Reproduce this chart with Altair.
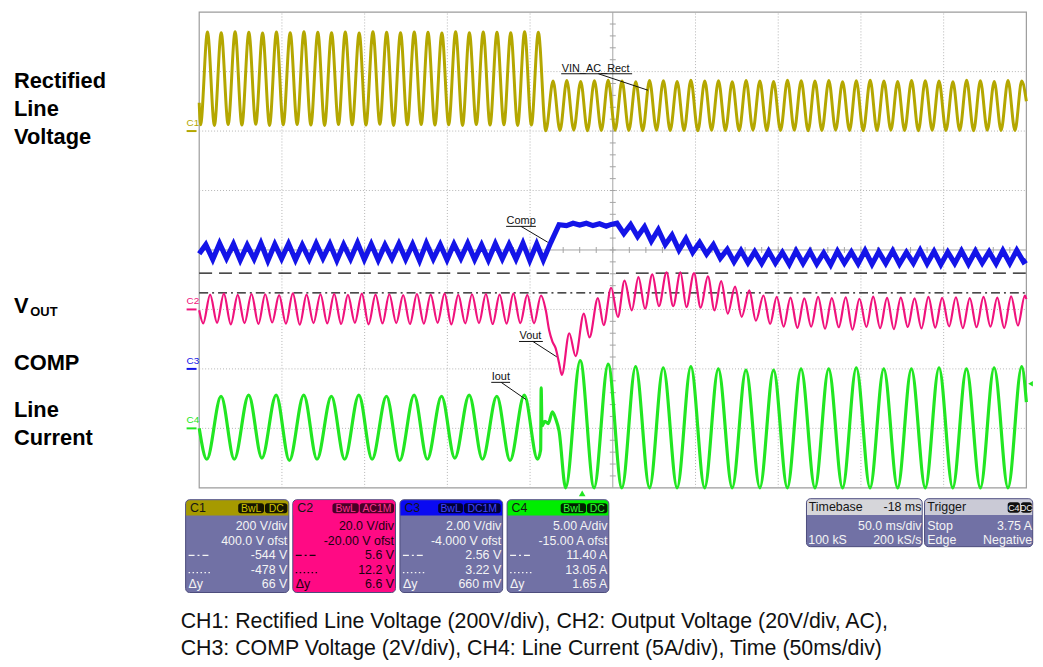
import altair as alt
import pandas as pd

# ---------------- values ----------------
# time in ms from the left edge of the scope screen (50 ms/div, 10 div)
# CH1 rectified line voltage (V)
C1_PEAK_T = [5.0, 13.3, 21.7, 30.0, 38.3, 46.7, 55.0, 63.3, 71.7, 80.0, 88.3, 96.7, 105.0,
             113.3, 121.7, 130.0, 138.3, 146.7, 155.0, 163.3, 171.7, 180.0, 188.3, 196.7, 205.0,
             213.9, 222.2, 230.6, 238.9, 247.2, 255.6, 263.9, 272.2, 280.6, 288.9, 297.2, 305.6,
             313.9, 322.2, 330.6, 338.9, 347.2, 355.6, 363.9, 372.2, 380.6, 388.9, 397.2, 405.6,
             413.9, 422.2, 430.6, 438.9, 447.2, 455.6, 463.9, 472.2, 480.6, 488.9, 497.2]
C1_PEAK_V = [333, 331, 334, 332, 330, 333, 331, 334, 332, 331, 333, 330, 334, 332, 331, 333, 332,
             330, 334, 331, 333, 332, 331, 334, 332,
             168, 170, 167, 169, 171, 168, 166, 170, 169, 167, 171, 168, 169, 166, 170, 168, 167,
             171, 169, 168, 170, 166, 169, 171, 168, 167, 170, 169, 168, 166, 171, 169, 167, 170, 168]
C1_TROUGH_T = [0.8, 9.2, 17.5, 25.8, 34.2, 42.5, 50.8, 59.2, 67.5, 75.8, 84.2, 92.5, 100.8,
               109.2, 117.5, 125.8, 134.2, 142.5, 150.8, 159.2, 167.5, 175.8, 184.2, 192.5, 200.8,
               209.5,
               218.1, 226.4, 234.7, 243.1, 251.4, 259.7, 268.1, 276.4, 284.7, 293.1,
               301.4, 309.7, 318.1, 326.4, 334.7, 343.1, 351.4, 359.7, 368.1, 376.4,
               384.7, 393.1, 401.4, 409.7, 418.1, 426.4, 434.7, 443.1, 451.4, 459.7,
               468.1, 476.4, 484.7, 493.1]
C1_TROUGH_V = [21, 19, 22, 20, 23, 19, 21, 22, 20, 19, 22, 21, 20, 23, 19, 21, 22, 20, 21, 19, 22,
               20, 21, 19, 20,
               1,
               2, 3, 1, 2, 3, 2, 1, 3, 2, 2, 1, 3, 2, 1, 3, 2, 2, 3, 1, 2, 3, 2, 1, 2, 3, 2, 1, 3,
               2, 2, 1, 3, 2, 2]
C1_EDGE_T = [0.0, 500.0]
C1_EDGE_V = [95, 100]

# CH2 output voltage (V, AC coupled)
C2_PEAK_T = [6.6, 14.9, 23.3, 31.6, 39.9, 48.3, 56.6, 64.9, 73.3, 81.6, 89.9, 98.3, 106.6,
             114.9, 123.3, 131.6, 139.9, 148.3, 156.6, 164.9, 173.3, 181.6, 189.9, 198.3, 206.6]
C2_PEAK_V = [5.0, 5.3, 4.9, 5.2, 5.1, 4.8, 5.4, 5.0, 5.1, 5.2, 4.9, 5.3, 5.0, 5.1, 4.8, 5.2, 5.0,
             5.3, 4.9, 5.1, 5.2, 5.0, 5.3, 4.9, 4.7]
C2_TROUGH_T = [2.4, 10.8, 19.1, 27.4, 35.8, 44.1, 52.4, 60.8, 69.1, 77.4, 85.8, 94.1, 102.4,
               110.8, 119.1, 127.4, 135.8, 144.1, 152.4, 160.8, 169.1, 177.4, 185.8, 194.1, 202.4]
C2_TROUGH_V = [-4.7, -4.5, -5.0, -4.6, -4.9, -4.4, -4.8, -5.1, -4.6, -4.7, -4.9, -4.5, -5.0, -4.7,
               -4.6, -4.9, -4.8, -4.5, -5.0, -4.7, -4.6, -4.9, -4.8, -4.6, -4.7]
C2_STEP_T = [209.5, 211.5, 213.5, 215.5, 217.5, 219.2, 223.7, 227.5, 232.5, 235.9, 241.0, 244.5,
             249.0, 253.1, 257.1, 261.5, 265.5, 269.5, 273.9, 277.9, 282.5, 286.5, 290.9, 294.5,
             299.1, 303.1, 307.5, 311.5, 315.5, 319.5, 323.9, 327.9, 332.5, 336.5, 341.1, 345.1,
             349.1, 353.3]
C2_STEP_V = [-0.3, -6.9, -10.8, -13.1, -18.0, -22.0, -8.0, -15.7, -1.4, -9.4, 3.8, -5.3,
             7.3, -2.5, 9.7, -0.3, 10.9, 0.3, 11.8, 1.1, 12.5, 1.1, 12.5, 0.8,
             12.2, 0.6, 11.1, -0.3, 9.5, -1.4, 7.7, -2.5, 6.4, -3.8, 4.7, -4.9,
             4.2, -5.8]
C2_LATE_PEAK_T = [357.4, 365.8, 374.1, 382.4, 390.8, 399.1, 407.4, 415.8, 424.1, 432.4, 440.8,
                  449.1, 457.4, 465.8, 474.1, 482.4, 490.8, 499.1]
C2_LATE_PEAK_V = [4.0, 3.7, 4.2, 3.8, 4.1, 3.6, 4.3, 3.9, 4.0, 3.7, 4.2, 3.9, 4.1, 3.8, 4.2, 4.0,
                  4.4, 4.7]
C2_LATE_TROUGH_T = [361.6, 369.9, 378.3, 386.6, 394.9, 403.3, 411.6, 419.9, 428.3, 436.6, 444.9,
                    453.3, 461.6, 469.9, 478.3, 486.6, 494.9]
C2_LATE_TROUGH_V = [-6.2, -5.8, -6.5, -6.0, -6.8, -5.9, -6.3, -6.6, -5.9, -6.4, -6.1, -5.7, -6.3,
                    -6.0, -5.8, -6.2, -5.4]
C2_EDGE_T = [0.0, 500.0]
C2_EDGE_V = [-0.3, 3.5]

# CH3 COMP voltage (V)
C3_PEAK_T = [4.0, 12.3, 20.7, 29.0, 37.3, 45.7, 54.0, 62.3, 70.7, 79.0, 87.3, 95.7, 104.0,
             112.3, 120.7, 129.0, 137.3, 145.7, 154.0, 162.3, 170.7, 179.0, 187.3, 195.7, 204.0]
C3_PEAK_V = [4.18, 4.22, 4.20, 4.16, 4.23, 4.19, 4.21, 4.17, 4.22, 4.20, 4.18, 4.24, 4.20, 4.17,
             4.21, 4.19, 4.23, 4.18, 4.20, 4.22, 4.17, 4.21, 4.19, 4.23, 4.20]
C3_TROUGH_T = [8.2, 16.5, 24.8, 33.2, 41.5, 49.8, 58.2, 66.5, 74.8, 83.2, 91.5, 99.8, 108.2,
               116.5, 124.8, 133.2, 141.5, 149.8, 158.2, 166.5, 174.8, 183.2, 191.5, 199.8, 208.0]
C3_TROUGH_V = [3.68, 3.72, 3.66, 3.70, 3.64, 3.71, 3.67, 3.69, 3.72, 3.65, 3.70, 3.68, 3.66,
               3.71, 3.69, 3.64, 3.70, 3.67, 3.72, 3.68, 3.66, 3.70, 3.69, 3.65, 3.66]
C3_STEP_T = [212.5, 217.5, 222.0, 226.0, 230.0, 234.0, 238.0, 242.0, 246.0, 249.0]
C3_STEP_V = [4.25, 4.85, 4.82, 4.90, 4.84, 4.90, 4.82, 4.88, 4.80, 4.86]
C3_LATE_PEAK_T = [252.5, 260.8, 269.2, 277.5, 285.8, 294.2, 302.5, 310.8, 319.2, 327.5, 335.8,
                  344.2, 352.5, 360.8, 369.2, 377.5, 385.8, 394.2, 402.5, 410.8, 419.2, 427.5,
                  435.8, 444.2, 452.5, 460.8, 469.2, 477.5, 485.8, 494.2]
C3_LATE_PEAK_V = [4.90, 4.85, 4.78, 4.68, 4.50, 4.38, 4.25, 4.18, 4.02, 3.98, 3.94, 3.96, 3.92,
                  3.97, 3.95, 3.90, 3.96, 3.93, 3.98, 3.94, 3.97, 3.92, 3.99, 3.95, 3.93, 3.97,
                  3.96, 3.94, 3.98, 3.99]
C3_LATE_TROUGH_T = [256.7, 265.0, 273.3, 281.7, 290.0, 298.3, 306.7, 315.0, 323.3, 331.7, 340.0,
                    348.3, 356.7, 365.0, 373.3, 381.7, 390.0, 398.3, 406.7, 415.0, 423.3, 431.7,
                    440.0, 448.3, 456.7, 465.0, 473.3, 481.7, 490.0, 498.3]
C3_LATE_TROUGH_V = [4.55, 4.45, 4.30, 4.18, 4.00, 3.92, 3.86, 3.72, 3.60, 3.57, 3.55, 3.56, 3.52,
                    3.55, 3.53, 3.50, 3.56, 3.54, 3.52, 3.55, 3.53, 3.56, 3.54, 3.51, 3.55, 3.53,
                    3.56, 3.54, 3.55, 3.60]
C3_EDGE_T = [0.0, 500.0]
C3_EDGE_V = [3.87, 3.66]

# CH4 line current (A)
C4_PEAK_T = [13.2, 29.9, 46.5, 63.2, 79.9, 96.5, 113.2, 129.9, 146.5, 163.2, 179.9, 196.5,
             230.3, 247.2, 263.8, 280.5, 297.2, 313.8, 330.5, 347.2, 363.8, 380.5, 397.2, 413.8,
             430.5, 447.2, 463.8, 480.5, 497.2]
C4_PEAK_V = [2.7, 2.8, 2.8, 2.8, 2.7, 2.8, 2.7, 2.8, 2.7, 2.8, 2.7, 2.8,
             5.7, 5.4, 5.2, 5.1, 5.2, 5.0, 4.9, 4.9, 5.0, 5.0, 5.1, 5.0, 5.0, 5.1, 5.0, 5.1, 5.2]
C4_TROUGH_T = [4.6, 21.2, 37.9, 54.5, 71.2, 87.9, 104.5, 121.2, 137.9, 154.5, 171.2, 187.9, 204.5,
               221.5, 238.7, 255.5, 272.2, 288.9, 305.5, 322.2, 338.9, 355.5, 372.2, 388.9, 405.5,
               422.2, 438.9, 455.5, 472.2, 488.9]
C4_TROUGH_V = [-2.6, -2.6, -2.5, -2.7, -2.6, -2.6, -2.6, -2.7, -2.6, -2.5, -2.6, -2.7, -2.6,
               -5.6, -5.5, -5.4, -5.6, -5.5, -5.4, -5.5, -5.6, -5.4, -5.5, -5.5, -5.6, -5.4, -5.5,
               -5.6, -5.5, -5.4]
C4_STEP_T = [206.4, 206.7, 207.2, 209.0, 211.0, 213.5, 215.5, 217.5]
C4_STEP_V = [-1.8, 3.4, 0.2, 0.6, 0.4, 1.4, 0.8, -0.2]
C4_EDGE_T = [0.0, 500.0]
C4_EDGE_V = [0.0, 2.2]

# cursor levels on CH2 (V), trigger
CURSOR_V = [5.6, 12.2]
TRIG_T = [231.5]
TRIG_LEVEL_A = [3.75]

# readout boxes
CH_NAMES = ["C1", "C2", "C3", "C4"]
CH_ROWS = [["200 V/div", "400.0 V ofst", "-544 V", "-478 V", "66 V"],
           ["20.0 V/div", "-20.00 V ofst", "5.6 V", "12.2 V", "6.6 V"],
           ["2.00 V/div", "-4.000 V ofst", "2.56 V", "3.22 V", "660 mV"],
           ["5.00 A/div", "-15.00 A ofst", "11.40 A", "13.05 A", "1.65 A"]]
CH_BADGES = [["BwL", "DC"], ["BwL", "AC1M"], ["BwL", "DC1M"], ["BwL", "DC"]]
SIDE_LABELS = [("Rectified", 86), ("Line", 114), ("Voltage", 142), ("COMP", 370),
               ("Line", 418), ("Current", 446)]
CAPTION = ["CH1: Rectified Line Voltage (200V/div), CH2: Output Voltage (20V/div, AC),",
           "CH3: COMP Voltage (2V/div), CH4: Line Current (5A/div), Time (50ms/div)"]

# ---------------- styling / layout ----------------
FONT = "Liberation Sans"
W, H = 1035, 659
PX = alt.Scale(domain=[8, 8 + W], range=[0, W])
PY = alt.Scale(domain=[8, 8 + H], range=[0, H])
SCR_L, SCR_R, SCR_T, SCR_B = 200.7, 1034.3, 9.6, 489.0
XR = [SCR_L - 8, SCR_R - 8]
YR = [SCR_B - 8, SCR_T - 8]
TS = alt.Scale(domain=[0, 500], range=XR)
DIV = alt.Scale(domain=[-4, 4], range=YR)
S1 = alt.Scale(domain=[-1200, 400], range=YR, clamp=True)
S2 = alt.Scale(domain=[-60, 100], range=YR, clamp=True)
S3 = alt.Scale(domain=[-4, 12], range=YR, clamp=True)
S4 = alt.Scale(domain=[-5, 35], range=YR, clamp=True)

COL1, COL2, COL3, COL4 = "#B4A700", "#F0127C", "#1414E8", "#22E622"
HDR = ["#A69A00", "#FF0A84", "#0A0AF2", "#00EE00"]
BODY = ["#7171A5", "#FF0A84", "#7171A5", "#7171A5"]
BADGE_FILL = ["#151500", "#4A0026", "#000038", "#002000"]
BADGE_TXT = ["#D0C400", "#FF3090", "#4040FF", "#30FF30"]
BODY_TXT = ["#F4F4F4", "#1A0010", "#F4F4F4", "#F4F4F4"]


def trace(ts, vs, scale, color, width, interp):
    t = [x for part in ts for x in part]
    v = [x for part in vs for x in part]
    df = pd.DataFrame({"t": t, "v": v}).sort_values("t")
    return alt.Chart(df).mark_line(color=color, strokeWidth=width, interpolate=interp).encode(
        x=alt.X("t:Q", scale=TS, axis=None),
        y=alt.Y("v:Q", scale=scale, axis=None))


def text_layer(rows, align="left", weight="normal", baseline="alphabetic"):
    df = pd.DataFrame(rows, columns=["s", "x", "y", "c", "fs"])
    return alt.Chart(df).mark_text(align=align, baseline=baseline, font=FONT,
                                   fontWeight=weight).encode(
        x=alt.X("x:Q", scale=PX, axis=None),
        y=alt.Y("y:Q", scale=PY, axis=None),
        text="s:N",
        color=alt.Color("c:N", scale=None),
        size=alt.Size("fs:Q", scale=None))


def rect_layer(rows, **mk):
    df = pd.DataFrame(rows, columns=["x0", "x1", "y0", "y1", "f"])
    return alt.Chart(df).mark_rect(**mk).encode(
        x=alt.X("x0:Q", scale=PX, axis=None), x2="x1:Q",
        y=alt.Y("y0:Q", scale=PY, axis=None), y2="y1:Q",
        fill=alt.Fill("f:N", scale=None))


def seg_layer(rows, color, width, dash=None):
    df = pd.DataFrame(rows, columns=["x0", "y0", "x1", "y1"])
    kw = dict(color=color, strokeWidth=width)
    if dash:
        kw["strokeDash"] = dash
    return alt.Chart(df).mark_rule(**kw).encode(
        x=alt.X("x0:Q", scale=PX, axis=None), y=alt.Y("y0:Q", scale=PY, axis=None),
        x2="x1:Q", y2="y1:Q")


layers = []

# scope screen frame
frame = pd.DataFrame({"a": [0], "b": [500], "c": [-4], "d": [4]})
layers.append(alt.Chart(frame).mark_rect(fill="white", stroke="#9C9C9C", strokeWidth=1.2).encode(
    x=alt.X("a:Q", scale=TS, axis=None), x2="b:Q",
    y=alt.Y("c:Q", scale=DIV, axis=None), y2="d:Q"))

# dotted grid
gv = pd.DataFrame({"t": [50, 100, 150, 200, 300, 350, 400, 450], "a": -4, "b": 4})
layers.append(alt.Chart(gv).mark_rule(color="#B4B4B4", strokeWidth=1, strokeDash=[1, 2]).encode(
    x=alt.X("t:Q", scale=TS, axis=None), y=alt.Y("a:Q", scale=DIV, axis=None), y2="b:Q"))
gh = pd.DataFrame({"d": [-3, -2, -1, 1, 2, 3], "a": 0, "b": 500})
layers.append(alt.Chart(gh).mark_rule(color="#B4B4B4", strokeWidth=1, strokeDash=[1, 2]).encode(
    y=alt.Y("d:Q", scale=DIV, axis=None), x=alt.X("a:Q", scale=TS, axis=None), x2="b:Q"))
# solid centre lines with minor ticks
cv = pd.DataFrame({"t": [250], "a": -4, "b": 4})
layers.append(alt.Chart(cv).mark_rule(color="#A4A4A4", strokeWidth=1).encode(
    x=alt.X("t:Q", scale=TS, axis=None), y=alt.Y("a:Q", scale=DIV, axis=None), y2="b:Q"))
ch = pd.DataFrame({"d": [0], "a": 0, "b": 500})
layers.append(alt.Chart(ch).mark_rule(color="#A4A4A4", strokeWidth=1).encode(
    y=alt.Y("d:Q", scale=DIV, axis=None), x=alt.X("a:Q", scale=TS, axis=None), x2="b:Q"))
tk_y = pd.DataFrame({"d": [round(-4 + 0.2 * i, 1) for i in range(1, 40)], "a": 248.2, "b": 251.8})
layers.append(alt.Chart(tk_y).mark_rule(color="#A4A4A4", strokeWidth=1).encode(
    y=alt.Y("d:Q", scale=DIV, axis=None), x=alt.X("a:Q", scale=TS, axis=None), x2="b:Q"))
tk_x = pd.DataFrame({"t": [10 * i for i in range(1, 50)], "a": -0.05, "b": 0.05})
layers.append(alt.Chart(tk_x).mark_rule(color="#A4A4A4", strokeWidth=1).encode(
    x=alt.X("t:Q", scale=TS, axis=None), y=alt.Y("a:Q", scale=DIV, axis=None), y2="b:Q"))

# cursors (on CH2)
for val, dash in zip(CURSOR_V, [[9, 4, 2, 4], [13, 7]]):
    cdf = pd.DataFrame({"v": [val], "a": 0, "b": 500})
    layers.append(alt.Chart(cdf).mark_rule(color="#111111", strokeWidth=1.3, strokeDash=dash).encode(
        y=alt.Y("v:Q", scale=S2, axis=None), x=alt.X("a:Q", scale=TS, axis=None), x2="b:Q"))

# traces
layers.append(trace([C1_EDGE_T, C1_PEAK_T, C1_TROUGH_T], [C1_EDGE_V, C1_PEAK_V, C1_TROUGH_V],
                    S1, COL1, 3.0, "monotone"))
layers.append(trace([C3_EDGE_T, C3_PEAK_T, C3_TROUGH_T, C3_STEP_T, C3_LATE_PEAK_T, C3_LATE_TROUGH_T],
                    [C3_EDGE_V, C3_PEAK_V, C3_TROUGH_V, C3_STEP_V, C3_LATE_PEAK_V, C3_LATE_TROUGH_V],
                    S3, COL3, 5.2, "linear"))
layers.append(trace([C2_EDGE_T, C2_PEAK_T, C2_TROUGH_T, C2_STEP_T, C2_LATE_PEAK_T, C2_LATE_TROUGH_T],
                    [C2_EDGE_V, C2_PEAK_V, C2_TROUGH_V, C2_STEP_V, C2_LATE_PEAK_V, C2_LATE_TROUGH_V],
                    S2, COL2, 2.2, "monotone"))
layers.append(trace([C4_EDGE_T, C4_PEAK_T, C4_TROUGH_T, C4_STEP_T],
                    [C4_EDGE_V, C4_PEAK_V, C4_TROUGH_V, C4_STEP_V],
                    S4, COL4, 3.2, "monotone"))

# channel ground markers on the left edge
for name, sc, col in zip(CH_NAMES, [S1, S2, S3, S4], [COL1, COL2, COL3, COL4]):
    mdf = pd.DataFrame({"a": [188], "b": [198], "v": [0.0], "s": [name]})
    layers.append(alt.Chart(mdf).mark_rule(color=col, strokeWidth=2).encode(
        x=alt.X("a:Q", scale=PX, axis=None), x2="b:Q", y=alt.Y("v:Q", scale=sc, axis=None)))
    layers.append(alt.Chart(mdf).mark_text(color=col, font=FONT, fontSize=10, align="left",
                                           baseline="bottom", dy=-3).encode(
        x=alt.X("a:Q", scale=PX, axis=None), y=alt.Y("v:Q", scale=sc, axis=None), text="s:N"))

# trigger markers
tdf_ = pd.DataFrame({"t": TRIG_T, "y": [494.5]})
layers.append(alt.Chart(tdf_).mark_point(shape="triangle-up", filled=True, color=COL4, size=45,
                                         opacity=1).encode(
    x=alt.X("t:Q", scale=TS, axis=None), y=alt.Y("y:Q", scale=PY, axis=None)))
ldf_ = pd.DataFrame({"x": [1038.5], "v": TRIG_LEVEL_A})
layers.append(alt.Chart(ldf_).mark_point(shape="triangle-left", filled=True, color=COL4, size=30,
                                         opacity=1).encode(
    x=alt.X("x:Q", scale=PX, axis=None), y=alt.Y("v:Q", scale=S4, axis=None)))

# trace name labels with leaders
layers.append(seg_layer([(565.5, 71.7, 637, 71.7), (603, 71.7, 653, 88.3),
                         (510, 225.5, 540, 225.5), (525, 225.5, 552, 241.5),
                         (523, 341.5, 547, 341.5), (537, 341.5, 561, 357),
                         (495, 382.7, 514, 382.7), (505, 382.7, 530, 400)], "#111111", 1))
layers.append(text_layer([("VIN_AC_Rect", 566, 69.5, "#111111", 11),
                          ("Comp", 510.5, 223.5, "#111111", 11),
                          ("Vout", 523.5, 339, "#111111", 11),
                          ("Iout", 495.5, 380.5, "#111111", 11)]))

# ---- channel readout boxes ----
BX0 = [187, 295, 403, 511]
BX1 = [291, 398.5, 506.5, 613.5]
layers.append(rect_layer([(BX0[i], BX1[i], 501, 594.5, BODY[i]) for i in range(4)],
                         cornerRadius=4, stroke="#4C4C7C", strokeWidth=1))
layers.append(rect_layer([(BX0[i] + 0.5, BX1[i] - 0.5, 501.5, 517, HDR[i]) for i in range(4)],
                         cornerRadiusTopLeft=3.5, cornerRadiusTopRight=3.5))
badge_pos = [[(240, 266), (267, 289.5)], [(335, 361.5), (362.5, 397)],
             [(441.5, 466.5), (467.5, 504.5)], [(565, 590.5), (591.5, 612)]]
brow, btxt = [], []
for i in range(4):
    for (a, b), s in zip(badge_pos[i], CH_BADGES[i]):
        brow.append((a, b, 504.5, 514.5, BADGE_FILL[i]))
        btxt.append((s, (a + b) / 2, 513.2, BADGE_TXT[i], 10.5))
layers.append(rect_layer(brow, cornerRadius=2.5))
layers.append(text_layer(btxt, align="center"))
ROW_Y = [531.5, 546.5, 561, 575.5, 590]
right_rows, left_rows = [], []
for i in range(4):
    left_rows.append((CH_NAMES[i], BX0[i] + 4.5, 513.5, "#151515", 12.5))
    for s, y in zip(CH_ROWS[i], ROW_Y):
        right_rows.append((s, BX1[i] - 1.5, y, BODY_TXT[i], 12.5))
    left_rows.append(("\u0394y", BX0[i] + 3, 590, BODY_TXT[i], 12.5))
layers.append(text_layer(right_rows, align="right"))
layers.append(text_layer(left_rows))
for i in range(4):
    layers.append(seg_layer([(BX0[i] + 3, 557, BX0[i] + 25, 557)], BODY_TXT[i], 1.2, [6, 3, 2, 3]))
    layers.append(seg_layer([(BX0[i] + 3, 574.5, BX0[i] + 26, 574.5)], BODY_TXT[i], 1.4, [1.5, 2.5]))

# ---- timebase / trigger boxes ----
layers.append(rect_layer([(812.7, 929.3, 500, 548.3, "#7171A5"), (931.7, 1040.7, 500, 548.3, "#7171A5")],
                         cornerRadius=4, stroke="#4C4C7C", strokeWidth=1))
layers.append(rect_layer([(813.2, 928.8, 500.5, 516.3, "#D6D6DA"), (932.2, 1040.2, 500.5, 516.3, "#CACAD6")],
                         cornerRadiusTopLeft=3.5, cornerRadiusTopRight=3.5))
layers.append(rect_layer([(1015.5, 1027.8, 503.5, 514, "#101010"), (1028.8, 1039.8, 503.5, 514, "#101010")],
                         cornerRadius=2.5))
layers.append(text_layer([("C4", 1021.7, 512.3, "#F0F0F0", 9), ("DC", 1034.3, 512.3, "#F0F0F0", 9)],
                         align="center"))
layers.append(text_layer([("Timebase", 815, 512.5, "#151515", 12.5),
                          ("100 kS", 814.5, 545.5, "#F4F4F4", 12.5),
                          ("Trigger", 934.5, 512.5, "#151515", 12.5),
                          ("Stop", 934.5, 531, "#F4F4F4", 12.5),
                          ("Edge", 934.5, 545.5, "#F4F4F4", 12.5)]))
layers.append(text_layer([("-18 ms", 928.5, 512.5, "#151515", 12.5),
                          ("50.0 ms/div", 928.5, 531, "#F4F4F4", 12.5),
                          ("200 kS/s", 928.5, 545.5, "#F4F4F4", 12.5),
                          ("3.75 A", 1040, 531, "#F4F4F4", 12.5),
                          ("Negative", 1040, 545.5, "#F4F4F4", 12.5)], align="right"))

# ---- left signal names and caption ----
layers.append(text_layer([(s, 14, y, "#000000", 22) for s, y in SIDE_LABELS]
                         + [("V", 14, 313, "#000000", 22), ("OUT", 30.5, 316, "#000000", 13)],
                         weight="bold"))
layers.append(text_layer([(CAPTION[0], 182, 630, "#111111", 21.5),
                          (CAPTION[1], 182, 657, "#111111", 21.5)]))

chart = alt.layer(*layers).resolve_scale(x="independent", y="independent").properties(
    width=W, height=H, padding=0, autosize=alt.AutoSizeParams(type="none"),
    background="white").configure_view(stroke=None)

chart.save("out.html", embed_options={"renderer": "svg", "actions": False})
